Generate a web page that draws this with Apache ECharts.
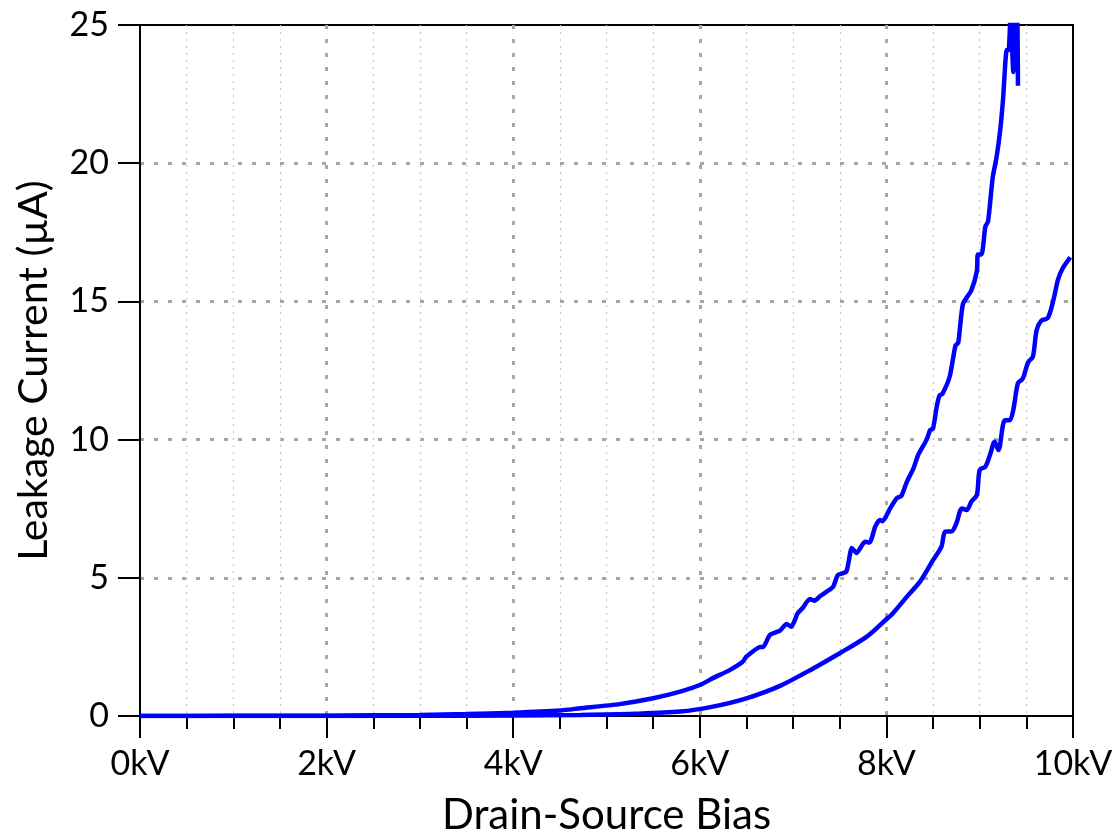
<!DOCTYPE html>
<html>
<head>
<meta charset="utf-8">
<script src="https://cdn.jsdelivr.net/npm/echarts@6/dist/echarts.min.js"></script>
<style>
  html, body { margin: 0; padding: 0; background: #fff; }
  #main { width: 1116px; height: 834px; }
</style>
</head>
<body>
<div id="main"></div>
<script>
// upper curve (noisy), kV / uA
var biasA = [0, 1, 2, 3, 3.5, 4, 4.5, 4.72, 5.14, 5.5, 5.79, 6.0, 6.14, 6.32, 6.46, 6.5, 6.65, 6.68, 6.75, 6.86, 6.93, 6.98, 7.05, 7.1, 7.18, 7.23, 7.29, 7.36, 7.43, 7.48, 7.57, 7.63, 7.68, 7.77, 7.82, 7.88, 7.93, 7.96, 8.04, 8.11, 8.16, 8.22, 8.29, 8.34, 8.43, 8.47, 8.5, 8.54, 8.57, 8.6, 8.68, 8.74, 8.77, 8.82, 8.91, 8.97, 8.98, 9.02, 9.06, 9.09, 9.14, 9.18, 9.22, 9.25, 9.29, 9.31, 9.33, 9.36, 9.37, 9.4, 9.41];
var currA = [0, 0.005, 0.01, 0.04, 0.07, 0.12, 0.2, 0.28, 0.43, 0.64, 0.88, 1.12, 1.37, 1.66, 1.96, 2.15, 2.5, 2.5, 2.93, 3.09, 3.33, 3.23, 3.72, 3.9, 4.23, 4.17, 4.34, 4.5, 4.68, 5.1, 5.22, 6.08, 5.9, 6.3, 6.28, 6.85, 7.09, 7.05, 7.51, 7.88, 7.96, 8.48, 8.96, 9.44, 9.99, 10.35, 10.4, 11.2, 11.6, 11.65, 12.3, 13.4, 13.5, 14.9, 15.4, 16.1, 16.7, 16.7, 17.7, 17.9, 19.5, 20.2, 21.2, 22.3, 24.1, 24.1, 25.3, 23.3, 25.3, 25.3, 22.8];

// lower curve (smooth)
var biasB = [0, 2, 3, 4, 4.72, 5.3, 5.79, 6.14, 6.5, 6.86, 7.22, 7.5, 7.79, 8.0, 8.07, 8.22, 8.36, 8.5, 8.59, 8.63, 8.7, 8.75, 8.81, 8.86, 8.91, 8.97, 9.0, 9.06, 9.11, 9.16, 9.2, 9.27, 9.32, 9.36, 9.41, 9.46, 9.52, 9.57, 9.61, 9.66, 9.73, 9.79, 9.84, 9.89, 9.95, 9.97];
var currB = [0, 0, 0.005, 0.015, 0.04, 0.08, 0.16, 0.34, 0.64, 1.09, 1.73, 2.27, 2.87, 3.5, 3.72, 4.32, 4.86, 5.64, 6.13, 6.67, 6.68, 6.97, 7.51, 7.45, 7.75, 8.0, 8.9, 9.02, 9.44, 9.92, 9.62, 10.7, 10.7, 11.07, 12.04, 12.2, 12.8, 13.0, 13.96, 14.3, 14.4, 15.05, 15.8, 16.2, 16.5, 16.6];

function pairs(xs, ys) {
  return xs.map(function (x, i) { return [x, ys[i]]; });
}

var chart = echarts.init(document.getElementById('main'));
var font = 'Lato';
var blue = '#0000ff';
var option = {
  animation: false,
  grid: {
    left: 140, right: 43, top: 25, bottom: 118,
    outerBoundsMode: 'none',
    show: true, borderColor: '#000', borderWidth: 2
  },
  xAxis: {
    type: 'value', min: 0, max: 10, interval: 2,
    name: 'Drain-Source Bias', nameLocation: 'middle', nameGap: 78,
    nameTextStyle: { fontFamily: font, fontSize: 42, color: '#000' },
    axisLine: { lineStyle: { color: '#000', width: 2 } },
    axisTick: { show: true, length: 22, lineStyle: { color: '#000', width: 2 } },
    minorTick: { show: true, splitNumber: 4, length: 13, lineStyle: { color: '#000', width: 2 } },
    axisLabel: { formatter: '{value}kV', margin: 31, fontFamily: font, fontSize: 34, color: '#000' },
    splitLine: { show: true, showMinLine: false, showMaxLine: false, lineStyle: { color: '#a6a6a6', width: 3, type: [4, 10] } },
    minorSplitLine: { show: true, lineStyle: { color: '#c4c4c4', width: 1.2, type: [2, 5] } }
  },
  yAxis: {
    type: 'value', min: 0, max: 25, interval: 5,
    name: 'Leakage Current (µA)', nameLocation: 'middle', nameGap: 86,
    nameTextStyle: { fontFamily: font, fontSize: 41, color: '#000' },
    axisLine: { show: true, lineStyle: { color: '#000', width: 2 } },
    axisTick: { show: true, length: 22, lineStyle: { color: '#000', width: 2 } },
    axisLabel: { margin: 31, fontFamily: font, fontSize: 34, color: '#000' },
    splitLine: { show: true, showMinLine: false, showMaxLine: false, lineStyle: { color: '#a6a6a6', width: 3, type: [4, 10] } }
  },
  series: [
    {
      type: 'line', data: pairs(biasA, currA), showSymbol: false, clip: true,
      smooth: 0.2,
      lineStyle: { color: blue, width: 4.5 }
    },
    {
      type: 'line', data: pairs(biasB, currB), showSymbol: false, clip: true,
      smooth: 0.3,
      lineStyle: { color: blue, width: 4.5 }
    }
  ]
};
chart.setOption(option);
</script>
</body>
</html>
